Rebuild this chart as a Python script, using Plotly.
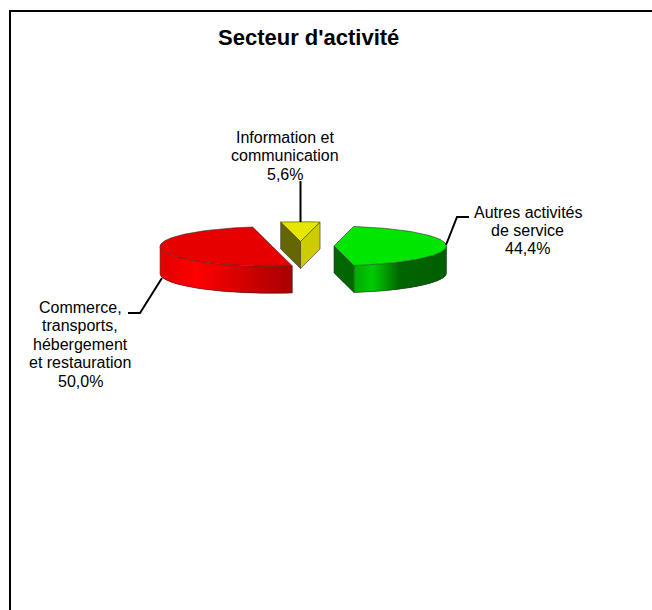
import numpy as np
import plotly.graph_objects as go

# donnees du graphique
categories = ["Autres activités de service", "Commerce, transports, hébergement et restauration",
              "Information et communication"]
valeurs = [44.4, 50.0, 5.6]
lignes_etiquettes = [
    ["Autres activités", "de service"],
    ["Commerce,", "transports,", "hébergement", "et restauration"],
    ["Information et", "communication"],
]
titre = "Secteur d'activité"

# geometrie de la tarte en pixels
angle_depart = 10
rayon_x = 112.5
rayon_y = 19.8
epaisseur = 27
centres = [(334, 246), (272.5, 246.5), (300.5, 241.5)]
ancres_texte = [(527.5, 212), (80, 307.5), (284.5, 137.5)]
pas_ligne = 18.4
guides = [
    ([446, 457, 469], [245, 217, 217]),
    ([162, 140, 128], [278, 313, 313]),
    ([300.5, 300.5], [181, 222]),
]

# couleurs: dessus, coupe de debut, coupe de fin, degrade du flanc
dessus = ["#00E600", "#E60000", "#E6E600"]
coupe_debut = [None, None, "#666600"]
coupe_fin = ["#006600", None, "#CCCC00"]
degrades = [
    [(0.0, (0, 168, 0)), (0.2, (0, 204, 0)), (0.5, (0, 102, 0)), (1.0, (0, 96, 0))],
    [(0.0, (224, 0, 0)), (0.27, (255, 0, 0)), (0.53, (224, 0, 0)), (1.0, (168, 0, 0))],
    None,
]


def point(centre, angle, dy=0.0):
    t = np.radians(angle)
    return centre[0] + rayon_x * np.sin(t), centre[1] - rayon_y * np.cos(t) + dy


def surface(fig, xs, ys, couleur, trait="rgba(40,40,40,0.8)", largeur=0.7):
    fig.add_trace(go.Scatter(x=list(xs), y=list(ys), mode="lines", fill="toself", fillcolor=couleur,
                             line=dict(color=trait, width=largeur), hoverinfo="skip", showlegend=False))


def couleur_degrade(stops, f):
    for (f0, c0), (f1, c1) in zip(stops, stops[1:]):
        if f <= f1:
            k = (f - f0) / (f1 - f0)
            return "rgb(%d,%d,%d)" % tuple(a + (b - a) * k for a, b in zip(c0, c1))
    return "rgb(%d,%d,%d)" % stops[-1][1]


fig = go.Figure()

debut = angle_depart
for i, v in enumerate(valeurs):
    fin = debut + v * 3.6
    c = centres[i]

    # coupes visibles
    for ang, coul in ((debut, coupe_debut[i]), (fin, coupe_fin[i])):
        if coul:
            px, py = point(c, ang)
            surface(fig, [c[0], px, px, c[0], c[0]], [c[1], py, py + epaisseur, c[1] + epaisseur, c[1]], coul)

    # flanc avant en bandes verticales, chaque bande recouvre un peu la suivante
    a0, a1 = max(debut, 90), min(fin, 270)
    if degrades[i] and a1 > a0:
        bords = np.linspace(a0, a1, 61)
        pts = [point(c, a) for a in bords]
        xg, xd = min(p[0] for p in pts), max(p[0] for p in pts)
        for j in range(len(pts) - 1):
            bloc = pts[j:j + 3]
            f = ((pts[j][0] + pts[j + 1][0]) / 2 - xg) / (xd - xg)
            coul = couleur_degrade(degrades[i], f)
            xs = [p[0] for p in bloc] + [p[0] for p in bloc[::-1]] + [bloc[0][0]]
            ys = [p[1] for p in bloc] + [p[1] + epaisseur for p in bloc[::-1]] + [bloc[0][1]]
            surface(fig, xs, ys, coul, trait=coul, largeur=0)
        # contour du flanc
        arc = np.linspace(a0, a1, 80)
        bas = [point(c, a, epaisseur) for a in arc]
        hx = [point(c, arc[0])[0]] + [p[0] for p in bas] + [point(c, arc[-1])[0]]
        hy = [point(c, arc[0])[1]] + [p[1] for p in bas] + [point(c, arc[-1])[1]]
        fig.add_trace(go.Scatter(x=hx, y=hy, mode="lines", line=dict(color="rgba(40,40,40,0.7)", width=0.7),
                                 hoverinfo="skip", showlegend=False))

    # dessus de la part
    arc = np.linspace(debut, fin, 120)
    haut = [point(c, a) for a in arc]
    surface(fig, [c[0]] + [p[0] for p in haut] + [c[0]], [c[1]] + [p[1] for p in haut] + [c[1]], dessus[i])

    debut = fin

# guides et etiquettes
for xs, ys in guides:
    fig.add_trace(go.Scatter(x=xs, y=ys, mode="lines", line=dict(color="black", width=2),
                             hoverinfo="skip", showlegend=False))

for i, v in enumerate(valeurs):
    textes = lignes_etiquettes[i] + [("%.1f%%" % v).replace(".", ",")]
    for k, t in enumerate(textes):
        fig.add_annotation(x=ancres_texte[i][0], y=ancres_texte[i][1] + k * pas_ligne, text=t, showarrow=False,
                           xanchor="center", yanchor="middle", font=dict(family="Liberation Sans", size=16, color="black"))

fig.add_annotation(x=308, y=37, text="<b>%s</b>" % titre, showarrow=False, xanchor="center", yanchor="middle",
                   font=dict(family="Liberation Sans", size=22, color="black"))

# cadre du graphique
fig.add_shape(type="line", x0=10, x1=10, y0=11, y1=610, line=dict(color="black", width=2))
fig.add_shape(type="line", x0=9, x1=652, y0=11, y1=11, line=dict(color="black", width=2))

fig.update_layout(width=652, height=610, margin=dict(l=0, r=0, t=0, b=0), paper_bgcolor="white",
                  plot_bgcolor="white", showlegend=False,
                  xaxis=dict(range=[0, 652], visible=False, fixedrange=True),
                  yaxis=dict(range=[610, 0], visible=False, fixedrange=True))

fig.write_html("out.html", config={"displayModeBar": False},
               post_script="document.body.style.margin='0';document.body.style.overflow='hidden';")
